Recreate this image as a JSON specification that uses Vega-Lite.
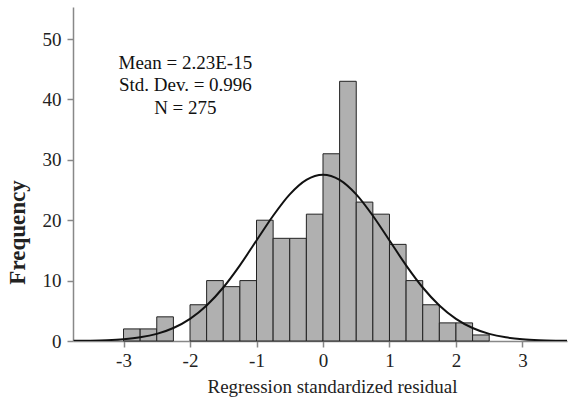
{
  "$schema": "https://vega.github.io/schema/vega-lite/v6.json",
  "width": 494,
  "height": 334,
  "autosize": "none",
  "padding": {"left": 73, "top": 7, "right": 2, "bottom": 60},
  "background": "white",
  "config": {
    "view": {"stroke": null},
    "axis": {"grid": false, "domainColor": "#888", "tickColor": "#888", "labelFont": "Liberation Serif", "titleFont": "Liberation Serif", "labelColor": "#222", "titleColor": "#222", "labelFontSize": 19, "titleFontSize": 19, "tickSize": 6, "domainWidth": 1.5, "tickWidth": 1.5}
  },
  "datasets": {
    "bins": [
      {"bin_start": -3.0, "bin_end": -2.75, "count": 2},
      {"bin_start": -2.75, "bin_end": -2.5, "count": 2},
      {"bin_start": -2.5, "bin_end": -2.25, "count": 4},
      {"bin_start": -2.0, "bin_end": -1.75, "count": 6},
      {"bin_start": -1.75, "bin_end": -1.5, "count": 10},
      {"bin_start": -1.5, "bin_end": -1.25, "count": 9},
      {"bin_start": -1.25, "bin_end": -1.0, "count": 10},
      {"bin_start": -1.0, "bin_end": -0.75, "count": 20},
      {"bin_start": -0.75, "bin_end": -0.5, "count": 17},
      {"bin_start": -0.5, "bin_end": -0.25, "count": 17},
      {"bin_start": -0.25, "bin_end": 0.0, "count": 21},
      {"bin_start": 0.0, "bin_end": 0.25, "count": 31},
      {"bin_start": 0.25, "bin_end": 0.5, "count": 43},
      {"bin_start": 0.5, "bin_end": 0.75, "count": 23},
      {"bin_start": 0.75, "bin_end": 1.0, "count": 21},
      {"bin_start": 1.0, "bin_end": 1.25, "count": 16},
      {"bin_start": 1.25, "bin_end": 1.5, "count": 10},
      {"bin_start": 1.5, "bin_end": 1.75, "count": 6},
      {"bin_start": 1.75, "bin_end": 2.0, "count": 3},
      {"bin_start": 2.0, "bin_end": 2.25, "count": 3},
      {"bin_start": 2.25, "bin_end": 2.5, "count": 1}
    ],
    "curve": [
      {"x": -3.75, "y": 0.023},
      {"x": -3.5, "y": 0.057},
      {"x": -3.25, "y": 0.134},
      {"x": -3.0, "y": 0.295},
      {"x": -2.75, "y": 0.609},
      {"x": -2.5, "y": 1.18},
      {"x": -2.25, "y": 2.15},
      {"x": -2.0, "y": 3.67},
      {"x": -1.75, "y": 5.88},
      {"x": -1.5, "y": 8.86},
      {"x": -1.25, "y": 12.53},
      {"x": -1.0, "y": 16.64},
      {"x": -0.75, "y": 20.74},
      {"x": -0.5, "y": 24.28},
      {"x": -0.25, "y": 26.68},
      {"x": 0.0, "y": 27.54},
      {"x": 0.25, "y": 26.68},
      {"x": 0.5, "y": 24.28},
      {"x": 0.75, "y": 20.74},
      {"x": 1.0, "y": 16.64},
      {"x": 1.25, "y": 12.53},
      {"x": 1.5, "y": 8.86},
      {"x": 1.75, "y": 5.88},
      {"x": 2.0, "y": 3.67},
      {"x": 2.25, "y": 2.15},
      {"x": 2.5, "y": 1.18},
      {"x": 2.75, "y": 0.609},
      {"x": 3.0, "y": 0.295},
      {"x": 3.25, "y": 0.134},
      {"x": 3.5, "y": 0.057},
      {"x": 3.67, "y": 0.03}
    ],
    "notes": [
      {"x": -2.07, "y": 46.1, "label": "Mean = 2.23E-15"},
      {"x": -2.07, "y": 42.4, "label": "Std. Dev. = 0.996"},
      {"x": -2.07, "y": 38.6, "label": "N = 275"}
    ]
  },
  "layer": [
    {
      "data": {"name": "bins"},
      "mark": {"type": "rect", "fill": "#b0b0b0", "stroke": "#222", "strokeWidth": 1},
      "encoding": {
        "x": {"field": "bin_start", "type": "quantitative",
              "scale": {"domain": [-3.76, 3.67], "nice": false, "zero": false},
              "axis": {"values": [-3, -2, -1, 0, 1, 2, 3], "labelExpr": "datum.value < 0 ? '-' + abs(datum.value) : '' + datum.value", "title": "Regression standardized residual", "titleFontWeight": "normal", "labelPadding": 4, "titleX": 259, "titleY": 51, "titleBaseline": "alphabetic", "titleAlign": "center"}},
        "x2": {"field": "bin_end"},
        "y": {"field": "count", "type": "quantitative",
              "scale": {"domain": [0, 55.3], "nice": false},
              "axis": {"values": [0, 10, 20, 30, 40, 50], "title": "Frequency", "titleFontWeight": "bold", "titleFontSize": 23, "labelPadding": 6, "titleX": -49, "titleY": 225, "titleBaseline": "alphabetic", "titleAlign": "center", "titleAngle": -90}},
        "y2": {"datum": 0}
      }
    },
    {
      "data": {"name": "curve"},
      "mark": {"type": "line", "color": "#111", "strokeWidth": 2, "interpolate": "monotone", "clip": true},
      "encoding": {
        "x": {"field": "x", "type": "quantitative"},
        "y": {"field": "y", "type": "quantitative"}
      }
    },
    {
      "data": {"name": "notes"},
      "mark": {"type": "text", "font": "Liberation Serif", "fontSize": 19, "color": "#111", "align": "center", "baseline": "middle"},
      "encoding": {
        "x": {"field": "x", "type": "quantitative"},
        "y": {"field": "y", "type": "quantitative"},
        "text": {"field": "label"}
      }
    }
  ]
}
